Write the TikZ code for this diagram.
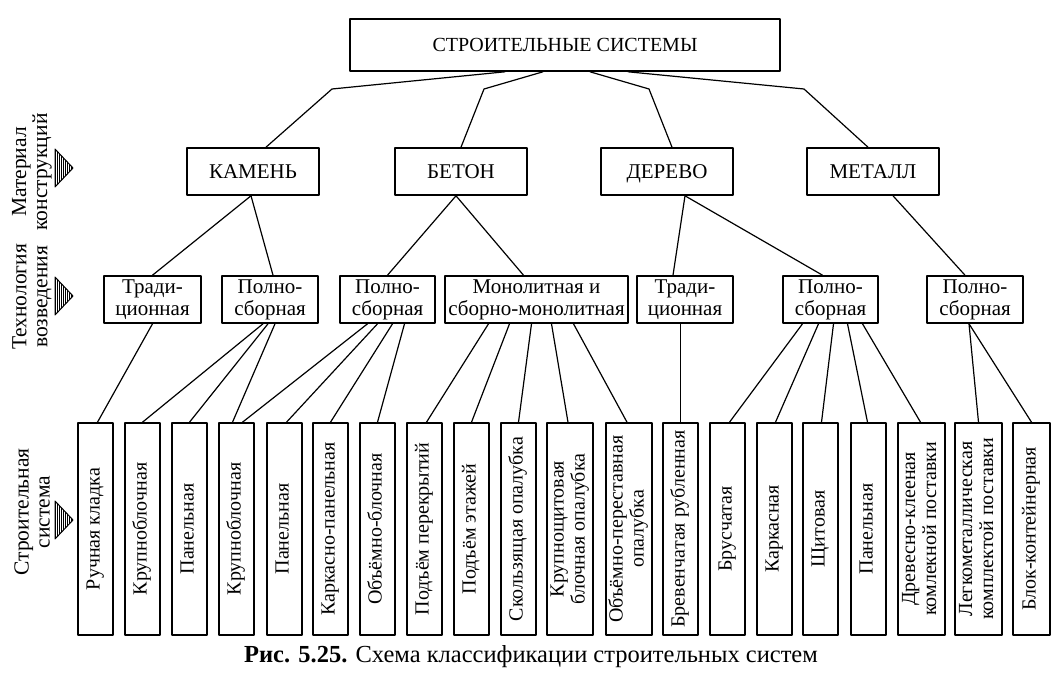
\documentclass[tikz,border=0pt]{standalone}
\usepackage{fontspec}
\setmainfont{Liberation Serif}
\usetikzlibrary{calc}

% rotated text inside the tall boxes
\newcommand{\vtext}[1]{\rotatebox{90}{\begin{tabular}{@{}c@{}}#1\end{tabular}}}
% striped triangle on the left, #1 = y of its tip
\newcommand{\levelmark}[1]{%
  \begin{scope}
    \clip (55,#1-19) -- (73,#1) -- (55,#1+19) -- cycle;
    \foreach \k in {0,...,9} \draw [line width=0.9pt] (55+2*\k,#1-20) -- (55+2*\k,#1+20);
  \end{scope}
  \draw [line width=1pt] (55,#1-19) -- (73,#1) -- (55,#1+19) -- cycle;}

\begin{document}
\begin{tikzpicture}[line cap=round,line join=round,x=1pt,y=-1pt,
    font=\fontsize{21}{22}\selectfont,
    box/.style={draw,line width=1.6pt,inner sep=0pt,align=center},
    topbox/.style={box,minimum height=47pt,minimum width=132pt,text height=14pt,text depth=0pt},
    midbox/.style={box,minimum height=47pt,minimum width=96pt},
    lowbox/.style={box,minimum height=212pt,minimum width=35pt,font=\fontsize{20}{21}\selectfont},
    wire/.style={line width=1.2pt}]
    \useasboundingbox (0,0) rectangle (1059,679);
    % root
    \node [box,minimum width=430pt,minimum height=52pt,font=\fontsize{20}{22}\selectfont] (sys) at (565,45) {СТРОИТЕЛЬНЫЕ СИСТЕМЫ};
    % material
    \node [topbox] (kamen) at (253,171.5) {КАМЕНЬ};
    \node [topbox] (beton) at (461,171.5) {БЕТОН};
    \node [topbox] (derevo) at (667,171.5) {ДЕРЕВО};
    \node [topbox] (metall) at (873,171.5) {МЕТАЛЛ};
    % technology
    \node [midbox,minimum width=97pt] (trad1) at (152.5,299.5) {Тради-\\ционная};
    \node [midbox] (poln1) at (270,299.5) {Полно-\\сборная};
    \node [midbox,minimum width=95pt] (poln2) at (387.5,299.5) {Полно-\\сборная};
    \node [midbox,minimum width=183pt] (monol) at (536.5,299.5) {Монолитная и\\сборно-монолитная};
    \node [midbox] (trad2) at (685,299.5) {Тради-\\ционная};
    \node [midbox,minimum width=95pt] (poln3) at (830.5,299.5) {Полно-\\сборная};
    \node [midbox] (poln4) at (975,299.5) {Полно-\\сборная};
    % building systems
    \node [lowbox] (s1) at (95.5,529) {\vtext{Ручная кладка}};
    \node [lowbox] (s2) at (142.5,529) {\vtext{Крупноблочная}};
    \node [lowbox] (s3) at (189.5,529) {\vtext{Панельная}};
    \node [lowbox] (s4) at (236.5,529) {\vtext{Крупноблочная}};
    \node [lowbox] (s5) at (284.5,529) {\vtext{Панельная}};
    \node [lowbox] (s6) at (330.5,529) {\vtext{Каркасно-панельная}};
    \node [lowbox] (s7) at (377.5,529) {\vtext{Объёмно-блочная}};
    \node [lowbox] (s8) at (424.5,529) {\vtext{Подъём перекрытий}};
    \node [lowbox] (s9) at (471.5,529) {\vtext{Подъём этажей}};
    \node [lowbox] (s10) at (518.5,529) {\vtext{Скользящая опалубка}};
    \node [lowbox,minimum width=46pt] (s11) at (570,529) {\vtext{Крупнощитовая\\блочная опалубка}};
    \node [lowbox,minimum width=46pt] (s12) at (629,529) {\vtext{Объёмно-переставная\\опалубка}};
    \node [lowbox] (s13) at (680.5,529) {\vtext{Бревенчатая рубленная}};
    \node [lowbox] (s14) at (727.5,529) {\vtext{Брусчатая}};
    \node [lowbox] (s15) at (774.5,529) {\vtext{Каркасная}};
    \node [lowbox] (s16) at (820.5,529) {\vtext{Щитовая}};
    \node [lowbox] (s17) at (868.5,529) {\vtext{Панельная}};
    \node [lowbox,minimum width=47pt] (s18) at (921.5,529) {\vtext{Древесно-клееная\\комлекной поставки}};
    \node [lowbox,minimum width=47pt] (s19) at (978.5,529) {\vtext{Легкометаллическая\\комплектой поставки}};
    \node [lowbox,minimum width=37pt] (s20) at (1031.5,529) {\vtext{Блок-контейнерная}};
    % root to material, with a knee
    \coordinate (kk) at (332,89);
    \coordinate (kb) at (484,89);
    \coordinate (kd) at (649,89);
    \coordinate (km) at (804,89);
    \draw [wire] ([xshift=-60pt]sys.south) -- (kk) -- ([xshift=13pt]kamen.north);
    \draw [wire] ([xshift=-22pt]sys.south) -- (kb) -- (beton.north);
    \draw [wire] ([xshift=25pt]sys.south) -- (kd) -- ([xshift=5pt]derevo.north);
    \draw [wire] ([xshift=63pt]sys.south) -- (km) -- ([xshift=-5pt]metall.north);
    % material to technology
    \draw [wire] ([xshift=-2pt]kamen.south) -- (trad1.north);
    \draw [wire] ([xshift=-2pt]kamen.south) -- ([xshift=3pt]poln1.north);
    \draw [wire] ([xshift=-5pt]beton.south) -- (poln2.north);
    \draw [wire] ([xshift=-5pt]beton.south) -- ([xshift=-13pt]monol.north);
    \draw [wire] ([xshift=18pt]derevo.south) -- ([xshift=-12pt]trad2.north);
    \draw [wire] ([xshift=18pt]derevo.south) -- ([xshift=-8pt]poln3.north);
    \draw [wire] ([xshift=20pt]metall.south) -- ([xshift=-10pt]poln4.north);
    % technology to systems
    \draw [wire] (trad1.south) -- ([xshift=2pt]s1.north);
    \draw [wire] ([xshift=-7pt]poln1.south) -- (s2.north);
    \draw [wire] ([xshift=-2pt]poln1.south) -- (s3.north);
    \draw [wire] ([xshift=5pt]poln1.south) -- ([xshift=-4pt]s4.north);
    \draw [wire] ([xshift=-20pt]poln2.south) -- ([xshift=6pt]s4.north);
    \draw [wire] ([xshift=-10pt]poln2.south) -- ([xshift=2pt]s5.north);
    \draw [wire] ([xshift=5pt]poln2.south) -- (s6.north);
    \draw [wire] ([xshift=17pt]poln2.south) -- (s7.north);
    \draw [wire] ([xshift=-48pt]monol.south) -- ([xshift=2pt]s8.north);
    \draw [wire] ([xshift=-27pt]monol.south) -- (s9.north);
    \draw [wire] ([xshift=-5pt]monol.south) -- (s10.north);
    \draw [wire] ([xshift=15pt]monol.south) -- ([xshift=-2pt]s11.north);
    \draw [wire] ([xshift=37pt]monol.south) -- ([xshift=-2pt]s12.north);
    \draw [wire] (s13.north) -- (s13.north |- trad2.south);
    \draw [wire] ([xshift=-28pt]poln3.south) -- ([xshift=2pt]s14.north);
    \draw [wire] ([xshift=-12pt]poln3.south) -- ([xshift=1pt]s15.north);
    \draw [wire] ([xshift=3pt]poln3.south) -- ([xshift=1pt]s16.north);
    \draw [wire] ([xshift=17pt]poln3.south) -- ([xshift=-1pt]s17.north);
    \draw [wire] ([xshift=32pt]poln3.south) -- ([xshift=-1pt]s18.north);
    \draw [wire] ([xshift=-6pt]poln4.south) -- (s19.north);
    \draw [wire] ([xshift=-6pt]poln4.south) -- (s20.north);
    % level captions on the left
    \node [rotate=90,align=center,font=\fontsize{21.5}{21}\selectfont] (lmat) at (32,172) {Материал\\конструкций};
    \node [rotate=90,align=center,font=\fontsize{21.5}{21}\selectfont] (ltech) at (32,297) {Технология\\возведения};
    \node [rotate=90,align=center,font=\fontsize{21.5}{21}\selectfont] (lsys) at (32,512) {Строительная\\система};
    \levelmark{168}
    \levelmark{296}
    \levelmark{520}
    % figure caption
    \node [font=\fontsize{24.5}{26}\selectfont] (cap) at (531,657) {\textbf{Рис. 5.25.} Схема классификации строительных систем};
\end{tikzpicture}
\end{document}
